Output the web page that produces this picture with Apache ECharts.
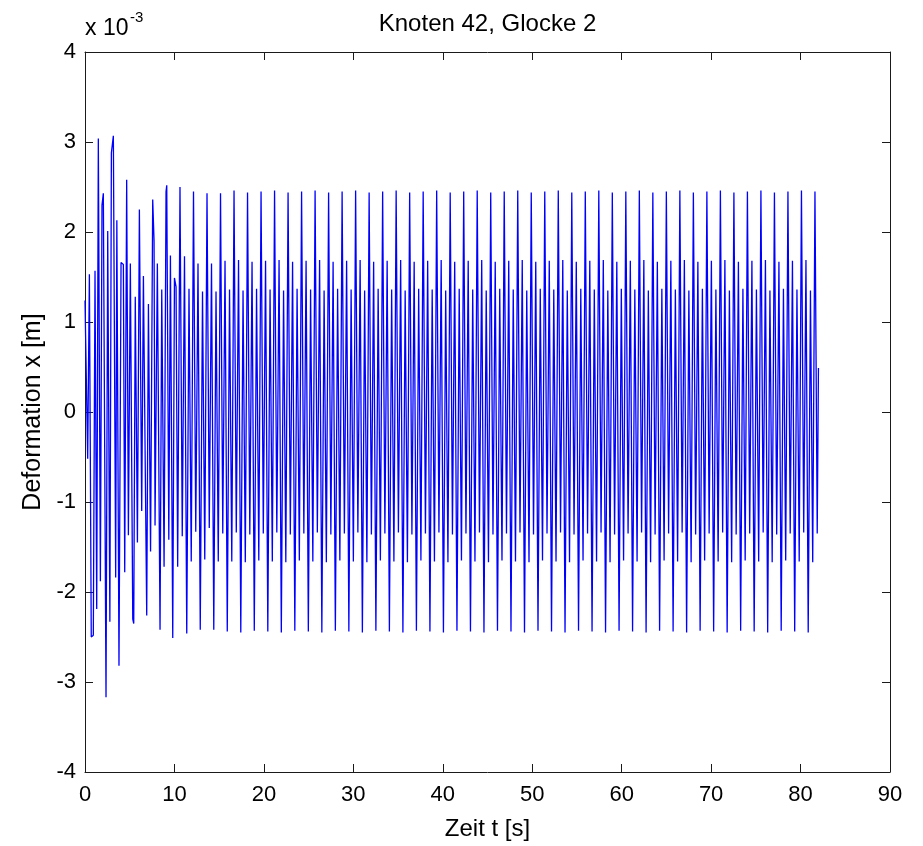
<!DOCTYPE html>
<html>
<head>
<meta charset="utf-8">
<script src="https://cdn.jsdelivr.net/npm/echarts@6/dist/echarts.min.js"></script>
<style>
html,body{margin:0;padding:0;background:#fff;}
#chart{width:923px;height:846px;}
</style>
</head>
<body>
<div id="chart"></div>
<script>
// ---- data (deflection in units of 1e-3 m, time in s) ----
const titleText = 'Knoten 42, Glocke 2';
const xAxisName = 'Zeit t [s]';
const yAxisName = 'Deformation x [m]';
const xTicks = [0, 10, 20, 30, 40, 50, 60, 70, 80, 90];
const yTicks = [-4, -3, -2, -1, 0, 1, 2, 3, 4];

// transient part: irregular solver steps
const transientTime = [0.00,0.30,0.49,0.70,0.93,1.12,1.31,1.49,1.72,1.90,2.05,2.35,2.54,2.78,2.95,3.17,3.43,3.56,3.80,4.03,4.29,4.44,4.66,4.85,5.07,5.34,5.45,5.62,5.86,6.08,6.34,6.53,6.90,7.09,7.33,7.57,7.72,7.83,8.09,8.39,8.58,8.84,9.06,9.14,9.37,9.55,9.81,10.00,10.18,10.36];
const transientDefl = [1.24,-0.52,1.53,-2.50,-2.48,1.57,-2.19,3.04,-1.88,2.30,2.43,-3.17,2.01,-2.33,2.88,3.07,-1.84,2.13,-2.82,1.66,1.64,-1.78,2.58,-1.37,1.65,-2.30,-2.35,1.28,-1.45,2.25,-1.10,1.51,-2.26,1.20,-1.55,2.36,1.90,-1.26,1.65,-2.42,1.36,-1.72,2.45,2.52,-1.42,1.74,-2.51,1.49,1.39,-1.72];

// steady part: uniformly sampled from steadyStart with step steadyStep
const steadyStart = 10.62;
const steadyStep = 0.25174;
const steadyDefl = [
 2.50,-1.38,1.73,-2.46,1.37,-1.66,
 2.45,-1.33,1.65,-2.42,1.34,-1.64,
 2.43,-1.29,1.65,-2.42,1.34,-1.66,
 2.43,-1.35,1.68,-2.44,1.36,-1.66,
 2.46,-1.34,1.69,-2.45,1.35,-1.67,
 2.44,-1.36,1.67,-2.43,1.37,-1.65,
 2.45,-1.35,1.68,-2.44,1.36,-1.66,
 2.46,-1.34,1.69,-2.45,1.35,-1.67,
 2.44,-1.36,1.67,-2.43,1.37,-1.65,
 2.45,-1.35,1.68,-2.44,1.36,-1.66,
 2.46,-1.34,1.69,-2.45,1.35,-1.67,
 2.44,-1.36,1.67,-2.43,1.37,-1.65,
 2.45,-1.35,1.68,-2.44,1.36,-1.66,
 2.46,-1.34,1.69,-2.45,1.35,-1.67,
 2.44,-1.36,1.67,-2.43,1.37,-1.65,
 2.45,-1.35,1.68,-2.44,1.36,-1.66,
 2.46,-1.34,1.69,-2.45,1.35,-1.67,
 2.44,-1.36,1.67,-2.43,1.37,-1.65,
 2.45,-1.35,1.68,-2.44,1.36,-1.66,
 2.46,-1.34,1.69,-2.45,1.35,-1.67,
 2.44,-1.36,1.67,-2.43,1.37,-1.65,
 2.45,-1.35,1.68,-2.44,1.36,-1.66,
 2.46,-1.34,1.69,-2.45,1.35,-1.67,
 2.44,-1.36,1.67,-2.43,1.37,-1.65,
 2.45,-1.35,1.68,-2.44,1.36,-1.66,
 2.46,-1.34,1.69,-2.45,1.35,-1.67,
 2.44,-1.36,1.67,-2.43,1.37,-1.65,
 2.45,-1.35,1.68,-2.44,1.36,-1.66,
 2.46,-1.34,1.69,-2.45,1.35,-1.67,
 2.44,-1.36,1.67,-2.43,1.37,-1.65,
 2.45,-1.35,1.68,-2.44,1.36,-1.66,
 2.46,-1.34,1.69,-2.45,1.35,-1.67,
 2.44,-1.36,1.67,-2.43,1.37,-1.65,
 2.45,-1.35,1.68,-2.44,1.36,-1.66,
 2.46,-1.34,1.69,-2.45,1.35,-1.67,
 2.44,-1.36,1.67,-2.43,1.37,-1.65,
 2.45,-1.35,1.68,-2.44,1.36,-1.66,
 2.46,-1.34,1.69,-2.45,1.35,-1.67,
 2.44,-1.36,1.67,-2.43,1.37,-1.65,
 2.45,-1.35,1.68,-2.44,1.36,-1.66,
 2.46,-1.34,1.69,-2.45,1.35,-1.67,
 2.44,-1.36,1.67,-2.43,1.37,-1.65,
 2.45,-1.35,1.68,-2.44,1.36,-1.66,
 2.46,-1.34,1.69,-2.45,1.35,-1.67,
 2.44,-1.36,1.67,-2.43,1.37,-1.65,
 2.45,-1.35,1.68,-2.44,1.36,-1.66,
 2.46,-1.34,1.69,-2.45,1.35,-1.67,
 2.45,-1.35
];

// final (shortened) solver step
const tailTime = [82.00];
const tailDefl = [0.49];

// ---- build series data ----
const seriesData = [];
transientTime.forEach((t, i) => seriesData.push([t, transientDefl[i]]));
steadyDefl.forEach((v, i) => seriesData.push([steadyStart + i * steadyStep, v]));
tailTime.forEach((t, i) => seriesData.push([t, tailDefl[i]]));

const FONT = '"Liberation Sans", Arial, Helvetica, sans-serif';
const GRID = {left: 85, right: 33, top: 52, bottom: 74};
const AX = '#1a1a1a';

const chart = echarts.init(document.getElementById('chart'), null, {renderer: 'canvas'});

function baseX(extra) {
  return Object.assign({
    type: 'value', min: xTicks[0], max: xTicks[xTicks.length - 1], interval: 10,
    axisLine: {show: true, onZero: false, lineStyle: {color: AX, width: 1}},
    axisTick: {show: true, inside: true, length: 8, lineStyle: {color: AX, width: 1}},
    splitLine: {show: false}
  }, extra);
}
function baseY(extra) {
  return Object.assign({
    type: 'value', min: yTicks[0], max: yTicks[yTicks.length - 1], interval: 1,
    axisLine: {show: true, onZero: false, lineStyle: {color: AX, width: 1}},
    axisTick: {show: true, inside: true, length: 8, lineStyle: {color: AX, width: 1}},
    splitLine: {show: false}
  }, extra);
}

const option = {
  animation: false,
  backgroundColor: '#ffffff',
  grid: GRID,
  xAxis: [
    baseX({position: 'bottom', axisLabel: {show: true, fontSize: 22, color: '#000', margin: 12, fontFamily: FONT}}),
    baseX({position: 'top', axisLabel: {show: false}})
  ],
  yAxis: [
    baseY({position: 'left', axisLabel: {show: true, fontSize: 22, color: '#000', margin: 9, fontFamily: FONT}}),
    baseY({position: 'right', axisLabel: {show: false}})
  ],
  series: [{
    type: 'line',
    xAxisIndex: 0, yAxisIndex: 0,
    data: seriesData,
    showSymbol: false,
    symbol: 'none',
    lineStyle: {color: '#0000ff', width: 1.3},
    clip: true
  }],
  graphic: [
    {type: 'text', x: 487.5, y: 24, style: {text: titleText, fontSize: 24, fontFamily: FONT, fill: '#000', align: 'center', verticalAlign: 'middle'}},
    {type: 'text', x: 487.5, y: 829, style: {text: xAxisName, fontSize: 24, fontFamily: FONT, fill: '#000', align: 'center', verticalAlign: 'middle'}},
    {type: 'text', x: 33, y: 412, rotation: Math.PI / 2, style: {text: yAxisName, fontSize: 25, fontFamily: FONT, fill: '#000', align: 'center', verticalAlign: 'middle'}},
    {type: 'text', x: 85, y: 29, style: {text: 'x 10', fontSize: 23, fontFamily: FONT, fill: '#000', align: 'left', verticalAlign: 'middle'}},
    {type: 'text', x: 130, y: 18, style: {text: '-3', fontSize: 15, fontFamily: FONT, fill: '#000', align: 'left', verticalAlign: 'middle'}}
  ]
};
chart.setOption(option);
</script>
</body>
</html>
